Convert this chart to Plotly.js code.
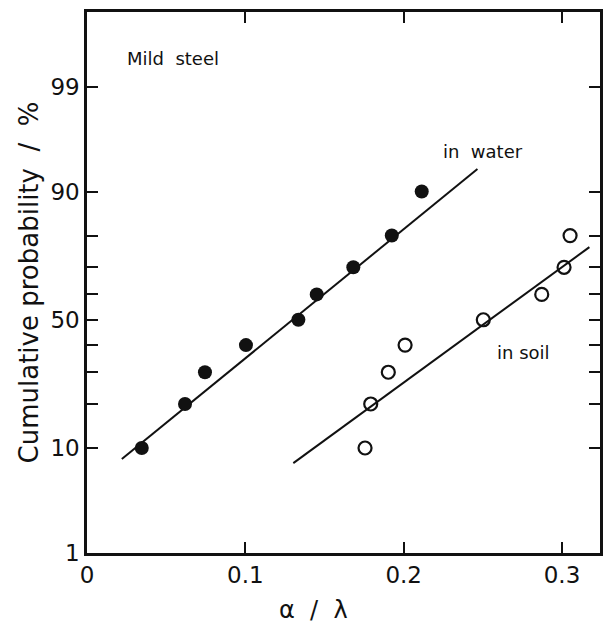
<!DOCTYPE html>
<html>
<head>
<meta charset="utf-8">
<script src="https://cdn.plot.ly/plotly-3.0.1.min.js"></script>
<style>html,body{margin:0;padding:0;background:#fff;}#chart{width:603px;height:624px;}</style>
</head>
<body>
<div id="chart"></div>
<script>
// Data (cumulative probability in %, x = alpha / lambda)
const waterX = [0.0346, 0.0619, 0.0745, 0.1004, 0.1335, 0.1451, 0.1682, 0.1925, 0.2114];
const waterP = [10, 20, 30, 40, 50, 60, 70, 80, 90];
const soilX = [0.1756, 0.1792, 0.1903, 0.2009, 0.2503, 0.2872, 0.3013, 0.3051];
const soilP = [10, 20, 30, 40, 50, 60, 70, 80];
const waterLineX = [0.022, 0.2466];
const waterLineP = [8.2, 93.4];
const soilLineX = [0.1303, 0.3173];
const soilLineP = [7.6, 76.6];
const yTickP = [1, 10, 20, 30, 40, 50, 60, 70, 80, 90, 99];
const yTickLabels = ['1', '10', '', '', '', '50', '', '', '', '90', '99'];
const xTickVals = [0, 0.1, 0.2, 0.3];
const xTickLabels = ['0', '0.1', '0.2', '0.3'];

// inverse standard normal CDF (Acklam)
function probit(p) {
  const a = [-3.969683028665376e+01, 2.209460984245205e+02, -2.759285104469687e+02, 1.383577518672690e+02, -3.066479806614716e+01, 2.506628277459239e+00];
  const b = [-5.447609879822406e+01, 1.615858368580409e+02, -1.556989798598866e+02, 6.680131188771972e+01, -1.328068155288572e+01];
  const c = [-7.784894002430293e-03, -3.223964580411365e-01, -2.400758277161838e+00, -2.549732539343734e+00, 4.374664141464968e+00, 2.938163982698783e+00];
  const d = [7.784695709041462e-03, 3.224671290700398e-01, 2.445134137142996e+00, 3.754408661907416e+00];
  const pl = 0.02425, ph = 1 - pl;
  let q, r;
  if (p < pl) {
    q = Math.sqrt(-2 * Math.log(p));
    return (((((c[0]*q+c[1])*q+c[2])*q+c[3])*q+c[4])*q+c[5]) / ((((d[0]*q+d[1])*q+d[2])*q+d[3])*q+1);
  } else if (p <= ph) {
    q = p - 0.5; r = q*q;
    return (((((a[0]*r+a[1])*r+a[2])*r+a[3])*r+a[4])*r+a[5])*q / (((((b[0]*r+b[1])*r+b[2])*r+b[3])*r+b[4])*r+1);
  } else {
    q = Math.sqrt(-2 * Math.log(1 - p));
    return -(((((c[0]*q+c[1])*q+c[2])*q+c[3])*q+c[4])*q+c[5]) / ((((d[0]*q+d[1])*q+d[2])*q+d[3])*q+1);
  }
}
const z = arr => arr.map(v => probit(v / 100));

const ink = '#111';
const font = 'DejaVu Sans, sans-serif';

const traces = [
  {x: waterLineX, y: z(waterLineP), mode: 'lines', line: {color: ink, width: 2}, hoverinfo: 'skip', showlegend: false},
  {x: soilLineX, y: z(soilLineP), mode: 'lines', line: {color: ink, width: 2}, hoverinfo: 'skip', showlegend: false},
  {x: waterX, y: z(waterP), mode: 'markers', name: 'in water',
   marker: {symbol: 'circle', size: 14, color: ink, line: {width: 0}}, showlegend: false},
  {x: soilX, y: z(soilP), mode: 'markers', name: 'in soil',
   marker: {symbol: 'circle-open', size: 13, color: ink, line: {width: 2.2, color: ink}}, showlegend: false}
];

const layout = {
  width: 603, height: 624,
  margin: {l: 87, r: 3, t: 12, b: 71},
  paper_bgcolor: '#fff', plot_bgcolor: '#fff',
  font: {family: font, color: ink},
  xaxis: {
    range: [0, 0.324], tickvals: xTickVals, ticktext: xTickLabels,
    ticks: 'inside', ticklen: 11, tickwidth: 2, tickcolor: ink,
    showline: true, linewidth: 2.7, linecolor: ink, mirror: 'allticks',
    showgrid: false, zeroline: false,
    tickfont: {family: font, size: 23, color: ink}
  },
  yaxis: {
    range: [-2.331, 3.076], tickvals: z(yTickP), ticktext: yTickLabels,
    ticks: 'inside', ticklen: 11, tickwidth: 2, tickcolor: ink,
    showline: true, linewidth: 2.7, linecolor: ink, mirror: 'allticks',
    showgrid: false, zeroline: false,
    tickfont: {family: font, size: 23, color: ink},
    title: {text: 'Cumulative probability\u00a0 /\u00a0 %', font: {family: font, size: 26, color: ink}, standoff: 5}
  },
  annotations: [
    {text: 'Mild\u00a0 steel', xref: 'paper', yref: 'paper', x: (125 - 87) / 513, y: (553 - 59) / 541,
     xanchor: 'left', yanchor: 'middle', showarrow: false, font: {family: font, size: 18, color: ink}},
    {text: 'in\u00a0 water', xref: 'paper', yref: 'paper', x: (441 - 87) / 513, y: (553 - 151) / 541,
     xanchor: 'left', yanchor: 'middle', showarrow: false, font: {family: font, size: 18, color: ink}},
    {text: 'in soil', xref: 'paper', yref: 'paper', x: (495 - 87) / 513, y: (553 - 352) / 541,
     xanchor: 'left', yanchor: 'middle', showarrow: false, font: {family: font, size: 18, color: ink}},
    {text: 'α\u00a0 /\u00a0 λ', xref: 'paper', yref: 'paper', x: (313 - 87) / 513, y: -(610 - 553) / 541,
     xanchor: 'center', yanchor: 'middle', showarrow: false, font: {family: font, size: 24, color: ink}}
  ]
};

Plotly.newPlot('chart', traces, layout, {displayModeBar: false, staticPlot: true});
</script>
</body>
</html>
